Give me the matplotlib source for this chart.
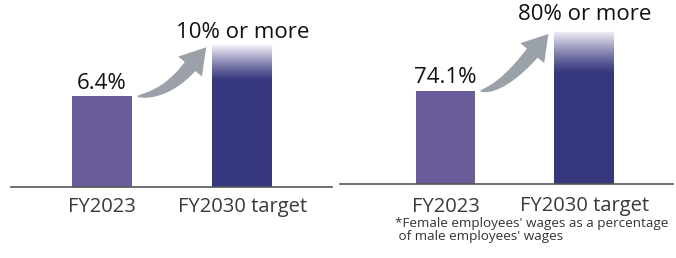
import matplotlib
matplotlib.use('Agg')
import matplotlib.pyplot as plt
import numpy as np
from matplotlib.patches import Polygon

plt.rcParams['font.family'] = ['Open Sans', 'DejaVu Sans']

categories = ['FY2023', 'FY2030 target']
left_values = [6.4, 10]
left_labels = ['6.4%', '10% or more']
right_values = [74.1, 80]
right_labels = ['74.1%', '80% or more']
footnote = "*Female employees' wages as a percentage\n of male employees' wages"

c_now = '#6a5b9b'
c_target = '#37377e'
c_arrow = '#9aa1a8'
BAR_W = 0.43


def curved_arrow(ax, start, tip, tail_w=14, head_w=31, head_len=25, angle=50):
    # start / tip in data coords, shape built in pixels
    to_px = ax.transData
    p0 = to_px.transform(start)
    t = to_px.transform(tip)
    d = np.array([np.cos(np.radians(angle)), np.sin(np.radians(angle))])
    neck = t - head_len * d
    k = (neck[1] - p0[1]) / d[1] * 0.95
    ctrl = neck - k * d
    s = np.linspace(0, 1, 60)[:, None]
    pts = (1 - s) ** 2 * p0 + 2 * (1 - s) * s * ctrl + s ** 2 * neck
    tan = 2 * (1 - s) * (ctrl - p0) + 2 * s * (neck - ctrl)
    tan = tan / np.linalg.norm(tan, axis=1)[:, None]
    nrm = np.column_stack([-tan[:, 1], tan[:, 0]])
    half = (tail_w / 2) * s ** 0.55
    upper = pts + nrm * half
    lower = pts - nrm * half
    n_end = nrm[-1]
    head = [neck + n_end * head_w / 2, t, neck - n_end * head_w / 2]
    poly = np.vstack([upper, head, lower[::-1]])
    poly = to_px.inverted().transform(poly)
    ax.add_patch(Polygon(poly, closed=True, color=c_arrow, lw=0, zorder=4))


def draw_panel(ax, values, labels, ylim, xlim, fade_frac, tick_pad, gaps):
    x = np.arange(len(values))
    bottom = ylim[0]
    heights = [v - bottom for v in values]
    ax.bar(x, heights, bottom=bottom, width=BAR_W, color=[c_now, c_target])
    ax.set_xlim(*xlim)
    ax.set_ylim(*ylim)

    # white fade on top of the target bar
    span = heights[1] * fade_frac
    grad = np.zeros((100, 1, 4))
    grad[:, 0, :3] = [0.99, 0.98, 1.0]
    grad[:, 0, 3] = np.linspace(0.97, 0.0, 100) ** 1.2
    ax.imshow(grad, extent=[x[1] - BAR_W / 2, x[1] + BAR_W / 2, values[1] - span, values[1]],
              aspect='auto', origin='upper', zorder=3)
    ax.set_xlim(*xlim)
    ax.set_ylim(*ylim)

    for xi, v, t, g in zip(x, values, labels, gaps):
        ax.annotate(t, (xi, v), xytext=(0, g), textcoords='offset pixels',
                    ha='center', va='baseline', fontsize=16, color='#111111')

    fig.canvas.draw()
    p_start = ax.transData.transform((x[0] + BAR_W / 2, values[0])) + [5, 0]
    p_tip = ax.transData.transform((x[1] - BAR_W / 2, values[1])) + [-6, -2]
    inv = ax.transData.inverted()
    curved_arrow(ax, inv.transform(p_start), inv.transform(p_tip))

    ax.set_xticks(x, categories)
    ax.tick_params(axis='x', length=0, pad=tick_pad, labelsize=14.5, labelcolor='#3a3a3a')
    ax.set_yticks([])
    for s in ['top', 'left', 'right']:
        ax.spines[s].set_visible(False)
    ax.spines['bottom'].set_color('#555555')
    ax.spines['bottom'].set_linewidth(1.2)


fig = plt.figure(figsize=(6.76, 2.58), dpi=100)
ax1 = fig.add_axes([11 / 676, 71 / 258, 321 / 676, 187 / 258])
ax2 = fig.add_axes([340 / 676, 74 / 258, 333 / 676, 184 / 258])

draw_panel(ax1, left_values, left_labels, (0, 13.2), (-0.65, 1.64), 0.25, 7, [7, 7])
draw_panel(ax2, right_values, right_labels, (64.8, 83.2), (-0.76, 1.64), 0.27, 9, [8, 12])

fig.text(395 / 676, 1 - 217 / 258, footnote, ha='left', va='top', fontsize=9.7,
         color='#333333', linespacing=1.0)

fig.savefig('out.png', dpi=100)
